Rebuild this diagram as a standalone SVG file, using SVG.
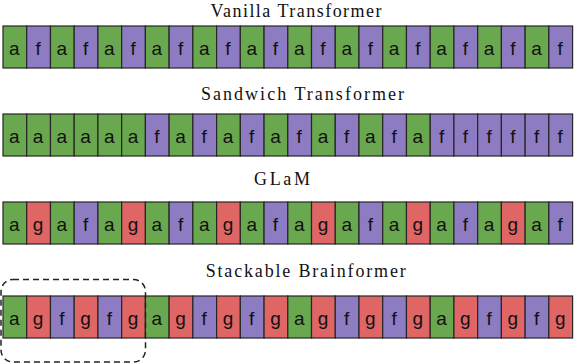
<svg xmlns="http://www.w3.org/2000/svg" width="574" height="364" viewBox="0 0 574 364">
<style>
.title{font-family:"Liberation Serif","DejaVu Serif",serif;font-size:18px;fill:#111;text-anchor:middle}
.a{fill:#6aa84f}
.f{fill:#8e7cc3}
.g{fill:#e06666}
.box{fill:none;stroke:#222;stroke-width:1.5;stroke-dasharray:6 4}
</style>
<defs>
<rect id="cell" width="23.73" height="42" stroke="#262626" stroke-width="1.2"/>
<g id="ca"><use href="#cell"/><text x="11.4" y="28.5" fill="#111" font-family="Liberation Sans, Arial, sans-serif" font-size="19" text-anchor="middle">a</text></g>
<g id="cf"><use href="#cell"/><text x="11.4" y="28.5" fill="#111" font-family="Liberation Sans, Arial, sans-serif" font-size="19" text-anchor="middle">f</text></g>
<g id="cg"><use href="#cell"/><text x="11.4" y="28.5" fill="#111" font-family="Liberation Sans, Arial, sans-serif" font-size="19" text-anchor="middle">g</text></g>
</defs>
<g id="titles">
<text class="title" x="296" y="16.5" textLength="171" lengthAdjust="spacing">Vanilla Transformer</text>
<text class="title" x="302.5" y="99.5" textLength="203" lengthAdjust="spacing">Sandwich Transformer</text>
<text class="title" x="282" y="185" textLength="56" lengthAdjust="spacing">GLaM</text>
<text class="title" x="305.7" y="277" textLength="200" lengthAdjust="spacing">Stackable Brainformer</text>
</g>
<g id="vanilla" transform="translate(0,26)">
<g id="v0" class="a" transform="translate(3,0)"><use href="#ca"/></g>
<g id="v1" class="f" transform="translate(26.73,0)"><use href="#cf"/></g>
<g id="v2" class="a" transform="translate(50.47,0)"><use href="#ca"/></g>
<g id="v3" class="f" transform="translate(74.2,0)"><use href="#cf"/></g>
<g id="v4" class="a" transform="translate(97.93,0)"><use href="#ca"/></g>
<g id="v5" class="f" transform="translate(121.67,0)"><use href="#cf"/></g>
<g id="v6" class="a" transform="translate(145.4,0)"><use href="#ca"/></g>
<g id="v7" class="f" transform="translate(169.13,0)"><use href="#cf"/></g>
<g id="v8" class="a" transform="translate(192.87,0)"><use href="#ca"/></g>
<g id="v9" class="f" transform="translate(216.6,0)"><use href="#cf"/></g>
<g id="v10" class="a" transform="translate(240.33,0)"><use href="#ca"/></g>
<g id="v11" class="f" transform="translate(264.07,0)"><use href="#cf"/></g>
<g id="v12" class="a" transform="translate(287.8,0)"><use href="#ca"/></g>
<g id="v13" class="f" transform="translate(311.53,0)"><use href="#cf"/></g>
<g id="v14" class="a" transform="translate(335.27,0)"><use href="#ca"/></g>
<g id="v15" class="f" transform="translate(359,0)"><use href="#cf"/></g>
<g id="v16" class="a" transform="translate(382.73,0)"><use href="#ca"/></g>
<g id="v17" class="f" transform="translate(406.47,0)"><use href="#cf"/></g>
<g id="v18" class="a" transform="translate(430.2,0)"><use href="#ca"/></g>
<g id="v19" class="f" transform="translate(453.93,0)"><use href="#cf"/></g>
<g id="v20" class="a" transform="translate(477.67,0)"><use href="#ca"/></g>
<g id="v21" class="f" transform="translate(501.4,0)"><use href="#cf"/></g>
<g id="v22" class="a" transform="translate(525.13,0)"><use href="#ca"/></g>
<g id="v23" class="f" transform="translate(548.87,0)"><use href="#cf"/></g>
</g>
<g id="sandwich" transform="translate(0,114)">
<g id="s0" class="a" transform="translate(3,0)"><use href="#ca"/></g>
<g id="s1" class="a" transform="translate(26.73,0)"><use href="#ca"/></g>
<g id="s2" class="a" transform="translate(50.47,0)"><use href="#ca"/></g>
<g id="s3" class="a" transform="translate(74.2,0)"><use href="#ca"/></g>
<g id="s4" class="a" transform="translate(97.93,0)"><use href="#ca"/></g>
<g id="s5" class="a" transform="translate(121.67,0)"><use href="#ca"/></g>
<g id="s6" class="f" transform="translate(145.4,0)"><use href="#cf"/></g>
<g id="s7" class="a" transform="translate(169.13,0)"><use href="#ca"/></g>
<g id="s8" class="f" transform="translate(192.87,0)"><use href="#cf"/></g>
<g id="s9" class="a" transform="translate(216.6,0)"><use href="#ca"/></g>
<g id="s10" class="f" transform="translate(240.33,0)"><use href="#cf"/></g>
<g id="s11" class="a" transform="translate(264.07,0)"><use href="#ca"/></g>
<g id="s12" class="f" transform="translate(287.8,0)"><use href="#cf"/></g>
<g id="s13" class="a" transform="translate(311.53,0)"><use href="#ca"/></g>
<g id="s14" class="f" transform="translate(335.27,0)"><use href="#cf"/></g>
<g id="s15" class="a" transform="translate(359,0)"><use href="#ca"/></g>
<g id="s16" class="f" transform="translate(382.73,0)"><use href="#cf"/></g>
<g id="s17" class="a" transform="translate(406.47,0)"><use href="#ca"/></g>
<g id="s18" class="f" transform="translate(430.2,0)"><use href="#cf"/></g>
<g id="s19" class="f" transform="translate(453.93,0)"><use href="#cf"/></g>
<g id="s20" class="f" transform="translate(477.67,0)"><use href="#cf"/></g>
<g id="s21" class="f" transform="translate(501.4,0)"><use href="#cf"/></g>
<g id="s22" class="f" transform="translate(525.13,0)"><use href="#cf"/></g>
<g id="s23" class="f" transform="translate(548.87,0)"><use href="#cf"/></g>
</g>
<g id="glam" transform="translate(0,202)">
<g id="m0" class="a" transform="translate(3,0)"><use href="#ca"/></g>
<g id="m1" class="g" transform="translate(26.73,0)"><use href="#cg"/></g>
<g id="m2" class="a" transform="translate(50.47,0)"><use href="#ca"/></g>
<g id="m3" class="f" transform="translate(74.2,0)"><use href="#cf"/></g>
<g id="m4" class="a" transform="translate(97.93,0)"><use href="#ca"/></g>
<g id="m5" class="g" transform="translate(121.67,0)"><use href="#cg"/></g>
<g id="m6" class="a" transform="translate(145.4,0)"><use href="#ca"/></g>
<g id="m7" class="f" transform="translate(169.13,0)"><use href="#cf"/></g>
<g id="m8" class="a" transform="translate(192.87,0)"><use href="#ca"/></g>
<g id="m9" class="g" transform="translate(216.6,0)"><use href="#cg"/></g>
<g id="m10" class="a" transform="translate(240.33,0)"><use href="#ca"/></g>
<g id="m11" class="f" transform="translate(264.07,0)"><use href="#cf"/></g>
<g id="m12" class="a" transform="translate(287.8,0)"><use href="#ca"/></g>
<g id="m13" class="g" transform="translate(311.53,0)"><use href="#cg"/></g>
<g id="m14" class="a" transform="translate(335.27,0)"><use href="#ca"/></g>
<g id="m15" class="f" transform="translate(359,0)"><use href="#cf"/></g>
<g id="m16" class="a" transform="translate(382.73,0)"><use href="#ca"/></g>
<g id="m17" class="g" transform="translate(406.47,0)"><use href="#cg"/></g>
<g id="m18" class="a" transform="translate(430.2,0)"><use href="#ca"/></g>
<g id="m19" class="f" transform="translate(453.93,0)"><use href="#cf"/></g>
<g id="m20" class="a" transform="translate(477.67,0)"><use href="#ca"/></g>
<g id="m21" class="g" transform="translate(501.4,0)"><use href="#cg"/></g>
<g id="m22" class="a" transform="translate(525.13,0)"><use href="#ca"/></g>
<g id="m23" class="f" transform="translate(548.87,0)"><use href="#cf"/></g>
</g>
<g id="brainformer" transform="translate(0,296)">
<g id="b0" class="a" transform="translate(3,0)"><use href="#ca"/></g>
<g id="b1" class="g" transform="translate(26.73,0)"><use href="#cg"/></g>
<g id="b2" class="f" transform="translate(50.47,0)"><use href="#cf"/></g>
<g id="b3" class="g" transform="translate(74.2,0)"><use href="#cg"/></g>
<g id="b4" class="f" transform="translate(97.93,0)"><use href="#cf"/></g>
<g id="b5" class="g" transform="translate(121.67,0)"><use href="#cg"/></g>
<g id="b6" class="a" transform="translate(145.4,0)"><use href="#ca"/></g>
<g id="b7" class="g" transform="translate(169.13,0)"><use href="#cg"/></g>
<g id="b8" class="f" transform="translate(192.87,0)"><use href="#cf"/></g>
<g id="b9" class="g" transform="translate(216.6,0)"><use href="#cg"/></g>
<g id="b10" class="f" transform="translate(240.33,0)"><use href="#cf"/></g>
<g id="b11" class="g" transform="translate(264.07,0)"><use href="#cg"/></g>
<g id="b12" class="a" transform="translate(287.8,0)"><use href="#ca"/></g>
<g id="b13" class="g" transform="translate(311.53,0)"><use href="#cg"/></g>
<g id="b14" class="f" transform="translate(335.27,0)"><use href="#cf"/></g>
<g id="b15" class="g" transform="translate(359,0)"><use href="#cg"/></g>
<g id="b16" class="f" transform="translate(382.73,0)"><use href="#cf"/></g>
<g id="b17" class="g" transform="translate(406.47,0)"><use href="#cg"/></g>
<g id="b18" class="a" transform="translate(430.2,0)"><use href="#ca"/></g>
<g id="b19" class="g" transform="translate(453.93,0)"><use href="#cg"/></g>
<g id="b20" class="f" transform="translate(477.67,0)"><use href="#cf"/></g>
<g id="b21" class="g" transform="translate(501.4,0)"><use href="#cg"/></g>
<g id="b22" class="f" transform="translate(525.13,0)"><use href="#cf"/></g>
<g id="b23" class="g" transform="translate(548.87,0)"><use href="#cg"/></g>
</g>
<g id="block">
<rect class="box" x="1" y="279.5" width="144.5" height="82.5" rx="12"/>
</g>
</svg>
